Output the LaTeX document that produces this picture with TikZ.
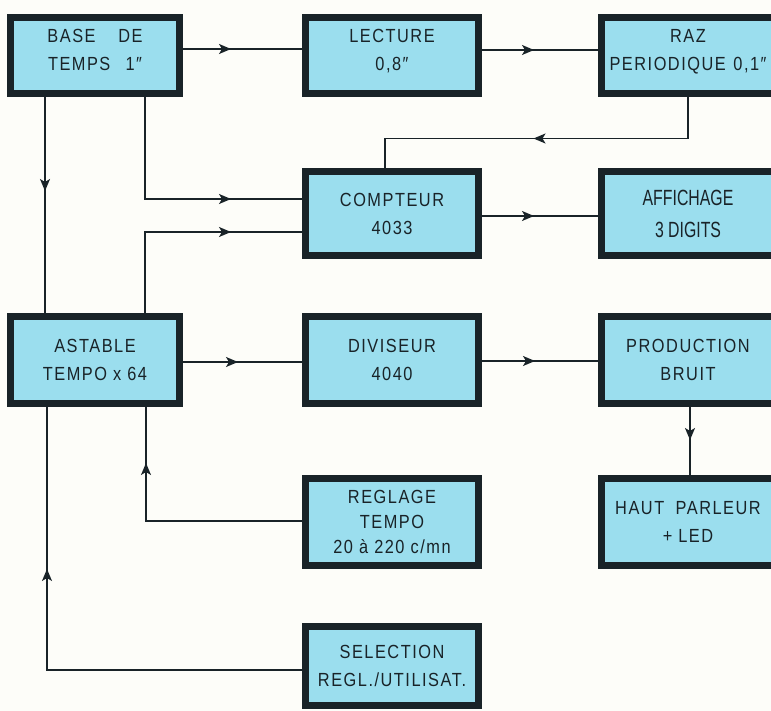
\documentclass[tikz,border=0pt]{standalone}
\usepackage{fontspec}
\setmainfont{Liberation Sans}[LetterSpace=8,FakeStretch=0.86]
\newfontfamily\condfont{Liberation Sans}[FakeStretch=0.72]
\usetikzlibrary{arrows.meta,decorations.markings}
\definecolor{boxblue}{RGB}{155,222,238}
\definecolor{ink}{RGB}{25,35,40}
\definecolor{paper}{RGB}{253,253,249}
\tikzset{
  blk/.style={draw=ink, line width=7pt, fill=boxblue, text=ink, align=center,
    inner sep=0pt, font=\fontsize{19}{28}\selectfont},
  c1/.style={minimum width=169pt},
  c2/.style={minimum width=173pt},
  wire/.style={draw=ink, line width=1.5pt},
  arr/.style={postaction={decorate,decoration={markings,
    mark=at position #1 with {\arrow{Stealth[length=12pt,width=10pt,inset=3pt]}}}}},
}
\begin{document}
\begin{tikzpicture}[x=1pt,y=-1pt]
\fill[paper] (0,0) rectangle (771,711);
\useasboundingbox (0,0) rectangle (771,711);
\clip (0,0) rectangle (771,711);

% boxes
\node[blk,c1,minimum height=76pt] (base) at (95,55.5) {BASE\hspace{1.2em}DE\\TEMPS\hspace{0.8em}1″\\[-16pt]\mbox{}};
\node[blk,c2,minimum height=76pt] (lect) at (392,55.5) {LECTURE\\0,8″\\[-16pt]\mbox{}};
\node[blk,c2,minimum height=76pt] (raz) at (688,55.5) {RAZ\\PERIODIQUE\hspace{0.4em}0,1″\\[-16pt]\mbox{}};
\node[blk,c2,minimum height=84pt] (comp) at (392,213.5) {COMPTEUR\\4033};
\node[blk,c2,minimum height=84pt,font=\condfont\fontsize{22}{32}\selectfont] (aff) at (688,213.5) {AFFICHAGE\\3 DIGITS};
\node[blk,c1,minimum height=87pt] (ast) at (95,360) {ASTABLE\\TEMPO x 64};
\node[blk,c2,minimum height=87pt] (div) at (392,360) {DIVISEUR\\4040};
\node[blk,c2,minimum height=87pt] (prod) at (688,360) {PRODUCTION\\BRUIT};
\node[blk,c2,minimum height=87pt,font=\fontsize{19}{25}\selectfont] (reg) at (392,522) {REGLAGE\\TEMPO\\20 à 220 c/mn};
\node[blk,c2,minimum height=87pt] (hp) at (688,522) {HAUT\hspace{0.6em}PARLEUR\\+ LED};
\node[blk,c2,minimum height=79pt] (sel) at (392,666) {SELECTION\\REGL./UTILISAT.};

% connectors
\draw[wire,arr=48pt] ([yshift=6.5pt]base.east) -- ([yshift=6.5pt]lect.west);
\draw[wire,arr=52pt] ([yshift=5.5pt]lect.east) -- ([yshift=5.5pt]raz.west);
\draw[wire,arr=196pt] (raz.south) -- ([yshift=-41.5pt]raz.south) -| ([xshift=-7pt]comp.north);
\draw[wire,arr=52pt] ([yshift=-2.5pt]comp.east) -- ([yshift=-2.5pt]aff.west);
\draw[wire,arr=94pt] ([xshift=-50pt]base.south) -- ([xshift=-50pt]ast.north);
\draw[wire,arr=188pt] ([xshift=50pt]base.south) |- ([yshift=14.5pt]comp.west);
\draw[wire,arr=167pt] ([xshift=50pt]ast.north) |- ([yshift=-18.5pt]comp.west);
\draw[wire,arr=55pt] ([yshift=-2pt]ast.east) -- ([yshift=-2pt]div.west);
\draw[wire,arr=53pt] ([yshift=-1pt]div.east) -- ([yshift=-1pt]prod.west);
\draw[wire,arr=33pt] ([xshift=2pt]prod.south) -- ([xshift=2pt]hp.north);
\draw[wire,arr=214pt] ([yshift=1pt]reg.west) -| ([xshift=51pt]ast.south);
\draw[wire,arr=356pt] ([yshift=-4pt]sel.west) -| ([xshift=-48pt]ast.south);
\end{tikzpicture}
\end{document}
